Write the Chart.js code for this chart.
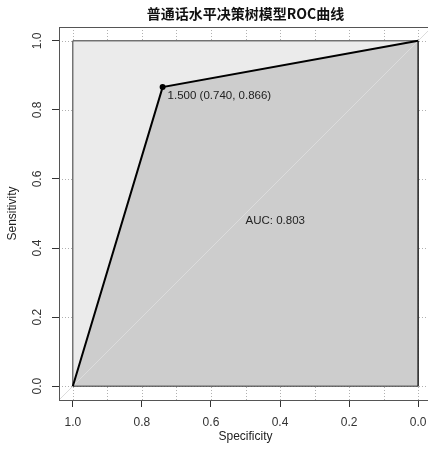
<!DOCTYPE html>
<html>
<head>
<meta charset="utf-8">
<script src="https://cdn.jsdelivr.net/npm/chart.js@4.4.1/dist/chart.umd.min.js"></script>
<style>
  html, body { margin: 0; padding: 0; background: #fff; overflow: hidden; }
  #wrap { width: 432px; height: 453px; }
</style>
</head>
<body>
<div id="wrap"><canvas id="rocChart"></canvas></div>
<script>
// ROC 数据
const specificity = [1.0, 0.740, 0.0];
const sensitivity = [0.0, 0.866, 1.0];
const thresholdIdx = 1;
const thresholdLabel = '1.500 (0.740, 0.866)';
const aucLabel = 'AUC: 0.803';

// 刻度 / 网格
const tickValues = [0, 0.2, 0.4, 0.6, 0.8, 1.0];
const xGridValues = [0, 0.1, 0.2, 0.3, 0.4, 0.5, 0.6, 0.7, 0.8, 0.9, 1.0];
const yGridValues = [0, 0.2, 0.4, 0.6, 0.8, 1.0];

const rocPoints = specificity.map((s, i) => ({ x: s, y: sensitivity[i] }));
const maxTop = [{ x: 1, y: 1 }, { x: 0, y: 1 }];
const squarePoints = [{ x: 1, y: 0 }, { x: 1, y: 1 }, { x: 0, y: 1 }, { x: 0, y: 0 }, { x: 1, y: 0 }];
const diagPoints = [{ x: 1.04, y: -0.04 }, { x: -0.04, y: 1.04 }];

const fontFamily = '"Liberation Sans", Arial, sans-serif';

// 网格 + 边框 + 文字
const rocExtras = {
  id: 'rocExtras',
  beforeDatasetsDraw(chart) {
    const { ctx, chartArea, scales } = chart;
    ctx.save();
    ctx.strokeStyle = '#b0b0b0';
    ctx.lineWidth = 1;
    ctx.setLineDash([1, 2]);
    xGridValues.forEach(v => {
      const px = Math.round(scales.x.getPixelForValue(v)) + 0.5;
      ctx.beginPath();
      ctx.moveTo(px, chartArea.top);
      ctx.lineTo(px, chartArea.bottom);
      ctx.stroke();
    });
    yGridValues.forEach(v => {
      const py = Math.round(scales.y.getPixelForValue(v)) + 0.5;
      ctx.beginPath();
      ctx.moveTo(chartArea.left, py);
      ctx.lineTo(chartArea.right, py);
      ctx.stroke();
    });
    ctx.restore();
  },
  afterDatasetsDraw(chart) {
    const { ctx, chartArea, scales } = chart;
    ctx.save();
    // 外框
    ctx.strokeStyle = '#555';
    ctx.lineWidth = 1;
    ctx.strokeRect(chartArea.left + 0.5, chartArea.top + 0.5,
      chartArea.right - chartArea.left, chartArea.bottom - chartArea.top);

    ctx.fillStyle = '#222';
    ctx.font = '11.5px ' + fontFamily;
    // 阈值标注
    const px = scales.x.getPixelForValue(specificity[thresholdIdx]);
    const py = scales.y.getPixelForValue(sensitivity[thresholdIdx]);
    ctx.textAlign = 'left';
    ctx.textBaseline = 'middle';
    ctx.fillText(thresholdLabel, px + 5, py + 9);
    // AUC
    ctx.fillText(aucLabel, scales.x.getPixelForValue(0.5), scales.y.getPixelForValue(0.48));

    // y 轴刻度文字（竖排）
    ctx.font = '12px ' + fontFamily;
    ctx.fillStyle = '#333';
    ctx.textAlign = 'center';
    tickValues.forEach(v => {
      const y = scales.y.getPixelForValue(v);
      ctx.save();
      ctx.translate(38, y);
      ctx.rotate(-Math.PI / 2);
      ctx.fillText(v.toFixed(1), 0, 0);
      ctx.restore();
    });
    ctx.restore();
  }
};

const ctx = document.getElementById('rocChart').getContext('2d');
new Chart(ctx, {
  type: 'scatter',
  data: {
    datasets: [
      {
        label: 'max fill',
        data: maxTop,
        showLine: true,
        borderWidth: 0,
        borderColor: 'rgba(0,0,0,0)',
        backgroundColor: '#ebebeb',
        fill: 'origin',
        pointRadius: 0,
        order: 5
      },
      {
        label: 'ROC fill',
        data: rocPoints,
        showLine: true,
        borderWidth: 0,
        borderColor: 'rgba(0,0,0,0)',
        backgroundColor: '#cdcdcd',
        fill: 'origin',
        pointRadius: 0,
        tension: 0,
        order: 4
      },
      {
        label: 'max border',
        data: squarePoints,
        showLine: true,
        borderColor: '#333',
        borderWidth: 1,
        fill: false,
        pointRadius: 0,
        order: 3
      },
      {
        label: 'diag',
        data: diagPoints,
        showLine: true,
        borderColor: '#dcdcdc',
        borderWidth: 1,
        pointRadius: 0,
        fill: false,
        order: 2
      },
      {
        label: 'ROC',
        data: rocPoints,
        showLine: true,
        borderColor: '#000',
        borderWidth: 2,
        fill: false,
        pointRadius: rocPoints.map((p, i) => i === thresholdIdx ? 2 : 0),
        pointBackgroundColor: '#000',
        pointBorderColor: '#000',
        tension: 0,
        order: 1
      }
    ]
  },
  options: {
    responsive: true,
    maintainAspectRatio: false,
    animation: false,
    events: [],
    layout: { padding: 0 },
    plugins: {
      legend: { display: false },
      tooltip: { enabled: false },
      title: {
        display: true,
        fullSize: false,
        text: '普通话水平决策树模型ROC曲线',
        color: '#111',
        font: { family: '"Noto Sans CJK SC", "Liberation Sans", sans-serif', size: 14, weight: 'bold' },
        padding: { top: 5, bottom: 5.2 }
      }
    },
    scales: {
      x: {
        type: 'linear',
        reverse: true,
        min: -0.04,
        max: 1.04,
        afterBuildTicks: scale => { scale.ticks = tickValues.map(v => ({ value: v })); },
        afterFit: scale => { scale.height = 53; },
        border: { display: false },
        grid: { drawOnChartArea: false, drawTicks: true, tickLength: 7, tickColor: '#333' },
        ticks: {
          color: '#333',
          padding: 8,
          maxRotation: 0,
          font: { family: fontFamily, size: 12 },
          callback: v => v.toFixed(1)
        },
        title: {
          display: true,
          text: 'Specificity',
          color: '#222',
          font: { family: fontFamily, size: 12 },
          padding: { top: 0, bottom: 9 }
        }
      },
      y: {
        type: 'linear',
        min: -0.04,
        max: 1.04,
        afterBuildTicks: scale => { scale.ticks = tickValues.map(v => ({ value: v })); },
        afterFit: scale => { scale.width = 59; },
        border: { display: false },
        grid: { drawOnChartArea: false, drawTicks: true, tickLength: 7, tickColor: '#333' },
        ticks: { display: false },
        title: {
          display: true,
          text: 'Sensitivity',
          color: '#222',
          font: { family: fontFamily, size: 12 },
          padding: { top: 5, bottom: 0 }
        }
      }
    }
  },
  plugins: [rocExtras]
});
</script>
</body>
</html>
